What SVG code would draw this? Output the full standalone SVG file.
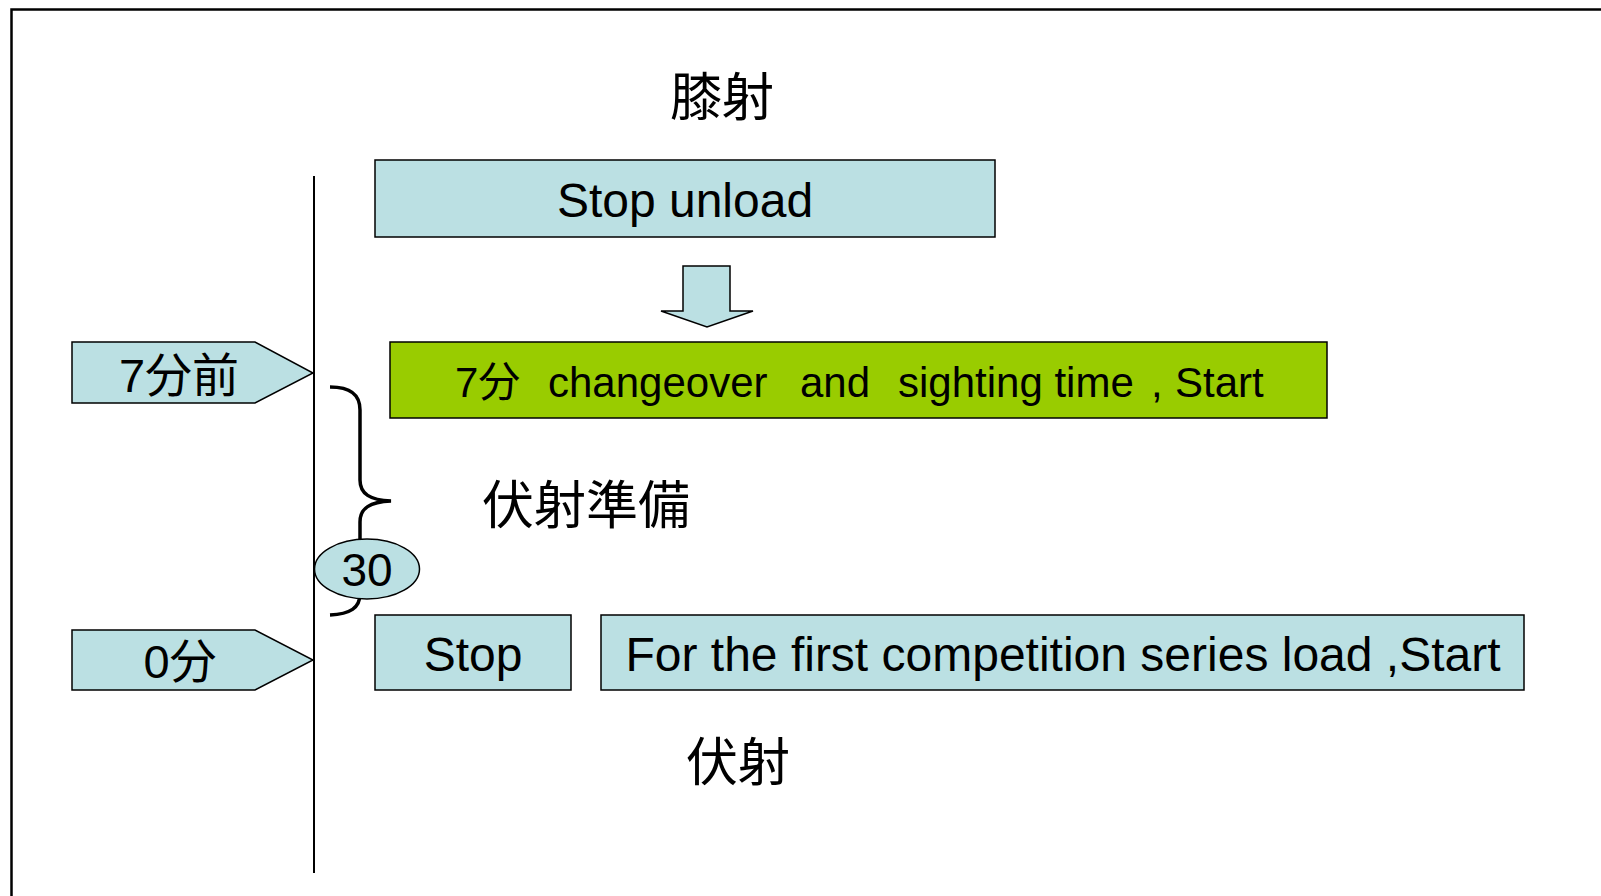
<svg xmlns="http://www.w3.org/2000/svg" width="1601" height="896" viewBox="0 0 1601 896">
<style>
.box{fill:#BBE0E3;stroke:#000;stroke-width:1.5}
.green{fill:#99CC00;stroke:#000;stroke-width:1.5}
.t{font-family:"Liberation Sans",Arial,"Noto Sans CJK JP",sans-serif;fill:#000}
.cjk{font-family:"Noto Sans CJK JP","Noto Sans CJK SC",sans-serif;fill:#000}
.line{stroke:#000;stroke-width:2;fill:none}
</style>
<rect x="0" y="0" width="1601" height="896" fill="#fff"/>
<rect x="11.5" y="9.5" width="1700" height="1000" fill="none" stroke="#000" stroke-width="2.5"/>
<g id="connectors">
<line class="line" x1="314" y1="176" x2="314" y2="873"/>
<path d="M330,387 C350,387 360,394 360,410 L360,480 C360,494 370,500 391,501 C370,502 360,508 360,522 L360,594 C360,608 350,614 330,615" fill="none" stroke="#000" stroke-width="3.5"/>
<polygon id="down-arrow" class="box" points="683,266 730,266 730,311 753,311 707,327 661,311 683,311"/>
</g>
<g id="title-kneeling"><text class="cjk" x="722" y="116" font-size="52" text-anchor="middle">膝射</text></g>
<g id="stop-unload">
<rect class="box" x="375" y="160" width="620" height="77"/>
<text class="t" x="685" y="217" font-size="48" text-anchor="middle">Stop unload</text>
</g>
<g id="t7">
<polygon class="box" points="72,342 255,342 313,373 255,403 72,403"/>
<text class="t" x="179" y="392" font-size="47" text-anchor="middle">7分前</text>
</g>
<g id="changeover">
<rect class="green" x="390" y="342" width="937" height="76"/>
<text class="t" y="397" font-size="42"><tspan x="455">7分</tspan><tspan x="548">changeover</tspan><tspan x="800">and</tspan><tspan x="898">sighting time</tspan><tspan x="1151">,</tspan><tspan x="1175">Start</tspan></text>
</g>
<g id="prep-label"><text class="cjk" x="482" y="524" font-size="52">伏射準備</text></g>
<g id="thirty">
<ellipse class="box" cx="367" cy="569" rx="52.5" ry="30"/>
<text class="t" x="367" y="586" font-size="46" text-anchor="middle">30</text>
</g>
<g id="t0">
<polygon class="box" points="72,630 255,630 313,660 255,690 72,690"/>
<text class="t" x="180" y="678" font-size="47" text-anchor="middle">0分</text>
</g>
<g id="stop">
<rect class="box" x="375" y="615" width="196" height="75"/>
<text class="t" x="473" y="671" font-size="48" text-anchor="middle">Stop</text>
</g>
<g id="first-series">
<rect class="box" x="601" y="615" width="923" height="75"/>
<text class="t" x="1063" y="671" font-size="48" text-anchor="middle">For the first competition series load ,Start</text>
</g>
<g id="prone-label"><text class="cjk" x="738" y="781" font-size="52" text-anchor="middle">伏射</text></g>
</svg>
